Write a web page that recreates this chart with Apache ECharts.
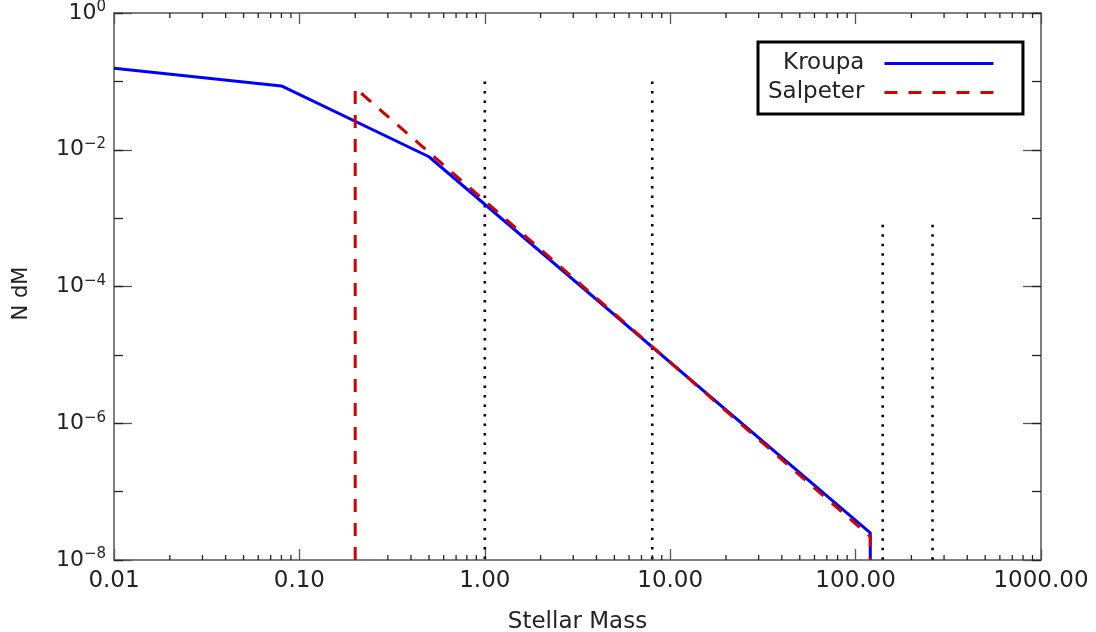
<!DOCTYPE html>
<html>
<head>
<meta charset="utf-8">
<script src="https://cdn.jsdelivr.net/npm/echarts@6/dist/echarts.min.js"></script>
<style>
html,body{margin:0;padding:0;background:#fff;}
#chart{width:1096px;height:632px;}
</style>
</head>
<body>
<div id="chart"></div>
<script>
// ---- data ----
const xMin = 0.01, xMax = 1000;
const yMin = 1e-8, yMax = 1;
const kroupaMass = [0.01, 0.08, 0.5, 120, 120];
const kroupaN    = [0.156, 0.0858, 0.0079, 2.5e-8, 1e-8];
const salpeterMass = [0.2, 0.2, 120, 120];
const salpeterN    = [1e-8, 0.08, 2.2e-8, 1e-8];
const markerMass = [1, 8, 140, 260];
const markerTop  = [0.1, 0.1, 8e-4, 8e-4];
const xMinorTicks = [
  0.02,0.03,0.04,0.05,0.06,0.07,0.08,0.09,
  0.2,0.3,0.4,0.5,0.6,0.7,0.8,0.9,
  2,3,4,5,6,7,8,9,
  20,30,40,50,60,70,80,90,
  200,300,400,500,600,700,800,900
];
const seriesNames = ['Kroupa', 'Salpeter'];
const xName = 'Stellar Mass';
const yName = 'N dM';

const FONT = '"DejaVu Sans", sans-serif';
const TXT = '#222';
const AX = '#555';

const zip = (a, b) => a.map((v, i) => [v, b[i]]);

const markerSeries = markerMass.map((m, i) => ({
  type: 'line', name: 'marker' + i, silent: true, symbol: 'none',
  data: [[m, markerTop[i]], [m, yMin]],
  lineStyle: { color: '#000', width: 2.6, type: [2.6, 6.9], cap: 'butt' },
  z: 1
}));

const chart = echarts.init(document.getElementById('chart'), null, { renderer: 'canvas' });
chart.setOption({
  animation: false,
  backgroundColor: '#fff',
  grid: { left: 114, right: 55, top: 13, bottom: 72, containLabel: false, outerBoundsMode: 'none' },
  legend: {
    data: seriesNames,
    orient: 'vertical', align: 'right',
    left: 758, top: 42,
    padding: [10, 28, 10, 10],
    borderColor: '#000', borderWidth: 3, backgroundColor: '#fff',
    itemWidth: 109, itemHeight: 14, itemGap: 6,
    itemStyle: { color: 'rgba(0,0,0,0)', borderWidth: 0, opacity: 0 },
    lineStyle: { width: 3 },
    textStyle: { fontSize: 23, fontFamily: FONT, color: TXT, lineHeight: 22, padding: [0, 15, 0, 0] }
  },
  xAxis: [
    {
      type: 'log', logBase: 10, min: xMin, max: xMax, splitNumber: 5,
      position: 'bottom',
      name: xName, nameLocation: 'middle', nameGap: 51,
      nameTextStyle: { fontSize: 23, fontFamily: FONT, color: TXT },
      axisLine: { show: true, onZero: false, lineStyle: { color: AX, width: 1.5 } },
      axisTick: { show: true, inside: true, length: 11, lineStyle: { color: AX, width: 1.3 } },
      axisLabel: { fontSize: 23, fontFamily: FONT, color: TXT, margin: 10, formatter: v => Number(v).toFixed(2) },
      splitLine: { show: false }
    },
    {
      type: 'log', logBase: 10, min: xMin, max: xMax, splitNumber: 5,
      position: 'top',
      axisLine: { show: true, onZero: false, lineStyle: { color: AX, width: 1.5 } },
      axisTick: { show: true, inside: true, length: 11, lineStyle: { color: AX, width: 1.3 } },
      axisLabel: { show: false },
      splitLine: { show: false }
    }
  ],
  yAxis: [
    {
      type: 'log', logBase: 100, min: yMin, max: yMax, splitNumber: 4,
      position: 'left',
      name: yName, nameLocation: 'middle', nameGap: 82, nameRotate: 90,
      nameTextStyle: { fontSize: 21, fontFamily: FONT, color: TXT, padding: [0, 14, 0, 0] },
      axisLine: { show: true, onZero: false, lineStyle: { color: AX, width: 1.5 } },
      axisTick: { show: true, inside: true, length: 18, lineStyle: { color: AX, width: 1.3 } },
      axisLabel: {
        margin: 8, fontFamily: FONT, color: TXT,
        formatter: v => {
          const e = Math.round(Math.log10(v));
          return '{b|10}{s|' + (e < 0 ? '\u2212' + (-e) : e) + '}';
        },
        rich: {
          b: { fontSize: 22, fontFamily: FONT, color: TXT, lineHeight: 26 },
          s: { fontSize: 15, fontFamily: FONT, color: TXT, lineHeight: 12, verticalAlign: 'top' }
        }
      },
      splitLine: { show: false }
    },
    {
      type: 'log', logBase: 10, min: yMin, max: yMax, splitNumber: 8,
      position: 'left',
      axisLine: { show: false },
      axisTick: { show: true, inside: true, length: 9, lineStyle: { color: '#222', width: 1.3 } },
      axisLabel: { show: false },
      splitLine: { show: false }
    },
    {
      type: 'log', logBase: 100, min: yMin, max: yMax, splitNumber: 4,
      position: 'right',
      axisLine: { show: true, onZero: false, lineStyle: { color: AX, width: 1.5 } },
      axisTick: { show: true, inside: true, length: 18, lineStyle: { color: AX, width: 1.3 } },
      axisLabel: { show: false },
      splitLine: { show: false }
    },
    {
      type: 'log', logBase: 10, min: yMin, max: yMax, splitNumber: 8,
      position: 'right',
      axisLine: { show: false },
      axisTick: { show: true, inside: true, length: 9, lineStyle: { color: '#222', width: 1.3 } },
      axisLabel: { show: false },
      splitLine: { show: false }
    }
  ],
  series: [
    {
      type: 'custom', name: 'minorTicks', silent: true, clip: false,
      xAxisIndex: 0, yAxisIndex: 0,
      data: xMinorTicks.map(v => [v, yMin]),
      renderItem: (params, api) => {
        const v = api.value(0);
        const b = api.coord([v, yMin]);
        const t = api.coord([v, yMax]);
        const st = { stroke: '#222', lineWidth: 1.3 };
        return {
          type: 'group',
          children: [
            { type: 'line', shape: { x1: b[0], y1: b[1], x2: b[0], y2: b[1] - 5 }, style: st },
            { type: 'line', shape: { x1: t[0], y1: t[1], x2: t[0], y2: t[1] + 5 }, style: st }
          ]
        };
      },
      z: 3
    },
    ...markerSeries,
    {
      type: 'line', name: seriesNames[0], symbol: 'none', showSymbol: false,
      data: zip(kroupaMass, kroupaN),
      lineStyle: { color: '#0000ff', width: 3 },
      itemStyle: { color: '#0000ff' },
      z: 4
    },
    {
      type: 'line', name: seriesNames[1], symbol: 'none', showSymbol: false,
      data: zip(salpeterMass, salpeterN),
      lineStyle: { color: '#d40000', width: 3, type: [13, 11] },
      itemStyle: { color: '#d40000' },
      z: 5
    }
  ]
});
</script>
</body>
</html>
